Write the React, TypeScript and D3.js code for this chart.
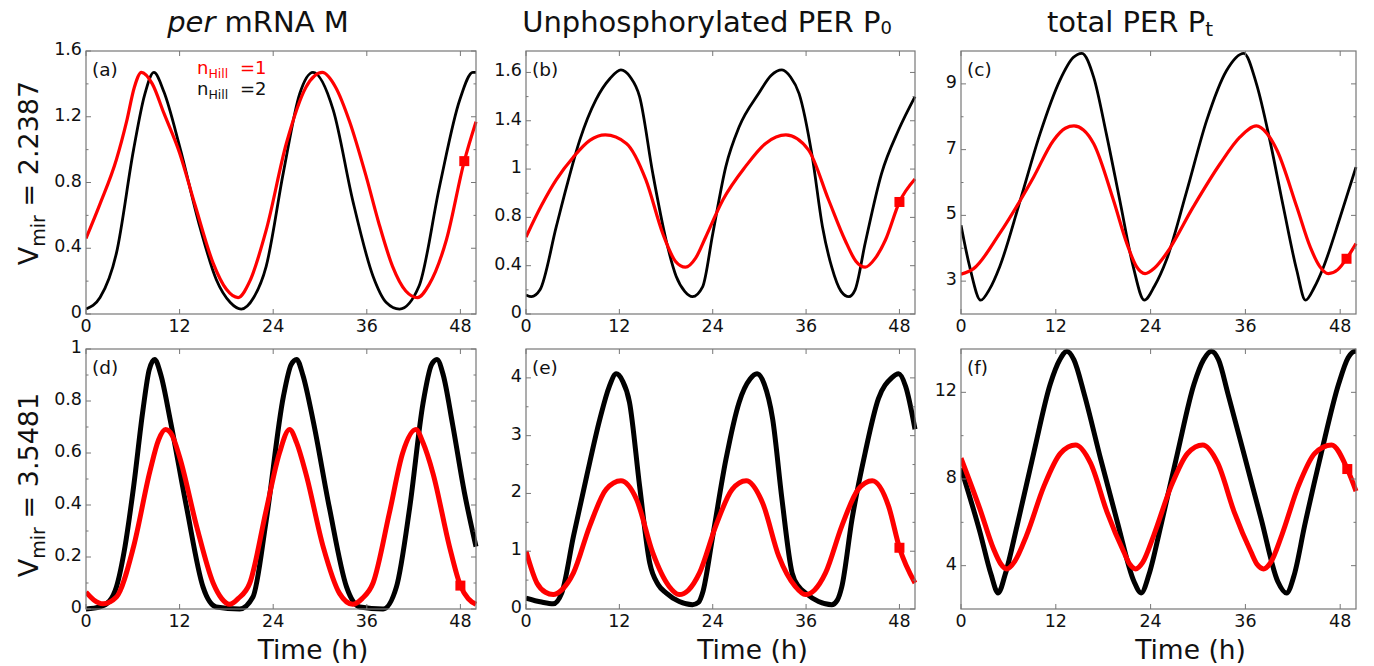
import { useEffect } from "react";
import * as d3 from "d3";

// time axis, hours
const timeDomain = [0, 50];
const timeTicks = [0, 12, 24, 36, 48];

// (a) per mRNA M, Vmir = 2.2387
const mA_n1 = [[0, 0.46], [1.8, 0.67], [3.9, 0.94], [5.2, 1.17], [6.2, 1.38], [7.1, 1.47], [8.5, 1.4], [10, 1.22], [12, 0.98], [14, 0.66], [16.3, 0.31], [18, 0.15], [19.5, 0.1], [21, 0.2], [23.1, 0.51], [25.7, 1.04], [28.2, 1.38], [30.3, 1.47], [32, 1.38], [33.8, 1.17], [35.9, 0.84], [37.5, 0.56], [39.3, 0.29], [41, 0.14], [42.5, 0.1], [44, 0.18], [46.2, 0.45], [48.5, 0.93], [50, 1.17]];
const mA_n2 = [[0, 0.03], [1.8, 0.1], [3.9, 0.37], [6.1, 1.0], [7.5, 1.33], [8.7, 1.47], [10, 1.35], [12, 1.02], [14.6, 0.53], [16.7, 0.21], [18.5, 0.07], [19.9, 0.03], [21.5, 0.1], [23.1, 0.29], [25.3, 0.86], [27.4, 1.34], [29.1, 1.47], [31.7, 1.24], [34.2, 0.69], [36.8, 0.23], [38.5, 0.07], [40.2, 0.03], [42.7, 0.17], [45.3, 0.77], [47.9, 1.3], [49.6, 1.47], [50, 1.47]];

// (b) unphosphorylated PER P0 (axis labels are evenly spaced)
const pB_ticks = [0, 0.32, 0.64, 0.96, 1.28, 1.6];
const pB_labels = ["0", "0.4", "0.8", "1", "1.4", "1.6"];
const pB_n1 = [[0, 0.51], [2, 0.72], [3.9, 0.89], [6.1, 1.04], [8.2, 1.15], [10.2, 1.186], [12.9, 1.13], [15.4, 0.89], [17.6, 0.53], [19.2, 0.35], [20.5, 0.31], [21.8, 0.37], [23.1, 0.51], [25.3, 0.755], [28.2, 0.976], [30.8, 1.13], [33.4, 1.186], [36.3, 1.087], [38.9, 0.755], [41, 0.49], [42.4, 0.35], [43.6, 0.31], [44.9, 0.37], [46.2, 0.49], [48, 0.742], [50, 0.894]];
const pB_n2 = [[0, 0.126], [0.7, 0.115], [1.8, 0.16], [3.9, 0.58], [5.2, 0.84], [6.9, 1.15], [9, 1.42], [10.8, 1.56], [12.2, 1.617], [13.4, 1.57], [14.6, 1.44], [16.3, 0.93], [18, 0.49], [19.3, 0.25], [20.4, 0.15], [21.4, 0.115], [22.7, 0.18], [24, 0.53], [25.7, 0.98], [27.4, 1.24], [29.9, 1.46], [31.5, 1.58], [32.9, 1.617], [34, 1.57], [35.1, 1.46], [36.8, 1.04], [38.1, 0.58], [39.3, 0.31], [40.5, 0.15], [41.5, 0.115], [42.3, 0.16], [43.6, 0.47], [45.7, 0.93], [47.9, 1.22], [50, 1.44]];

// (c) total PER Pt
const pC_n1 = [[0, 3.21], [1.6, 3.38], [4.9, 4.45], [9.2, 6.17], [11.7, 7.28], [13.2, 7.65], [14.3, 7.72], [15.5, 7.6], [16.8, 7.18], [19.3, 5.46], [21, 4.14], [22.2, 3.45], [23.3, 3.23], [24.5, 3.4], [26, 3.84], [29.4, 5.26], [32.8, 6.57], [35.3, 7.38], [37.4, 7.72], [38.7, 7.5], [40, 6.98], [42.5, 5.26], [44.2, 4.04], [45.4, 3.45], [46.5, 3.23], [47.7, 3.35], [48.8, 3.68], [50, 4.14]];
const pC_n2 = [[0, 4.7], [1.1, 3.44], [2.5, 2.42], [3.6, 2.75], [4.9, 3.44], [7.5, 5.46], [10, 7.48], [12.5, 9.1], [14.2, 9.8], [15.3, 9.93], [16.8, 9.2], [18.4, 7.48], [20.1, 5.46], [21.8, 3.44], [23.2, 2.42], [24.5, 2.85], [26, 3.64], [28.6, 5.76], [31.1, 7.89], [33.6, 9.4], [35.8, 9.93], [37.4, 9.0], [39.1, 7.28], [40.8, 5.26], [42.5, 3.33], [43.6, 2.42], [44.7, 2.8], [45.9, 3.44], [48, 4.95], [50, 6.47]];

// (d) per mRNA M, Vmir = 3.5481
const mD_n1 = [[0, 0.065], [1, 0.035], [2.2, 0.02], [3.9, 0.046], [6.1, 0.24], [8.2, 0.53], [9.3, 0.65], [10.2, 0.69], [11, 0.67], [12, 0.585], [14.2, 0.316], [16.3, 0.1], [17.4, 0.04], [18.4, 0.018], [19.5, 0.04], [21, 0.1], [23.1, 0.38], [24.8, 0.6], [26.1, 0.69], [27, 0.64], [28.2, 0.52], [30.4, 0.24], [32.5, 0.06], [34.2, 0.018], [35.4, 0.04], [36.8, 0.1], [38.9, 0.37], [40.6, 0.6], [42.3, 0.69], [43.2, 0.64], [44.5, 0.52], [46.6, 0.24], [48, 0.09], [49, 0.04], [50, 0.018]];
const mD_n2 = [[0, 0], [1.8, 0.008], [3, 0.03], [3.9, 0.085], [5, 0.24], [6.1, 0.47], [7.3, 0.765], [8.1, 0.92], [8.8, 0.96], [9.6, 0.9], [10.8, 0.727], [12.9, 0.39], [15, 0.085], [16.7, 0.008], [19.7, 0.0], [21.4, 0.046], [23.1, 0.34], [25.3, 0.816], [26.3, 0.94], [27, 0.96], [27.8, 0.9], [29.1, 0.727], [31.2, 0.39], [33.4, 0.085], [35.1, 0.008], [38.1, 0.0], [39.8, 0.085], [41.5, 0.39], [43.2, 0.79], [44.3, 0.94], [45, 0.96], [45.8, 0.9], [47, 0.71], [48.5, 0.45], [50, 0.24]];

// (e) unphosphorylated PER P0, Vmir = 3.5481
const pE_n1 = [[0, 1.0], [1.4, 0.45], [2.5, 0.29], [3.5, 0.25], [4.6, 0.33], [6.1, 0.625], [8.2, 1.44], [10.3, 2.07], [12.2, 2.22], [14.2, 1.9], [16.3, 0.97], [18.4, 0.39], [19.7, 0.25], [20.9, 0.33], [22.3, 0.625], [24.4, 1.44], [26.5, 2.07], [28.3, 2.22], [30.4, 1.84], [32.5, 0.91], [34.6, 0.39], [35.9, 0.25], [37.1, 0.33], [38.5, 0.625], [40.6, 1.44], [42.7, 2.07], [44.5, 2.22], [46.6, 1.78], [48, 1.06], [50, 0.45]];
const pE_n2 = [[0, 0.19], [2, 0.12], [3.5, 0.09], [4.6, 0.28], [6.1, 1.26], [7.8, 2.3], [9.5, 3.29], [10.7, 3.85], [11.6, 4.07], [12.4, 3.95], [13.3, 3.58], [14.6, 2.13], [15.9, 0.8], [17, 0.42], [18, 0.28], [19.7, 0.13], [21.4, 0.075], [22.2, 0.12], [22.7, 0.28], [24, 1.26], [25.7, 2.59], [27.4, 3.58], [28.8, 3.98], [29.7, 4.07], [30.6, 3.9], [31.7, 3.29], [32.9, 1.9], [34.2, 0.625], [35.1, 0.38], [35.9, 0.28], [37.6, 0.13], [39.3, 0.075], [40, 0.15], [40.6, 0.39], [41.9, 1.55], [43.6, 2.71], [45.3, 3.64], [47, 4.0], [47.9, 4.07], [48.8, 3.85], [50, 3.11]];

// (f) total PER Pt, Vmir = 3.5481
const pF_n1 = [[0, 8.96], [2.4, 6.61], [4.1, 4.79], [5, 4.1], [5.8, 3.85], [6.8, 4.2], [8.3, 5.4], [10.5, 7.67], [12.6, 9.19], [14.5, 9.57], [16.4, 8.73], [18.5, 6.46], [20.6, 4.64], [21.4, 4.05], [22.1, 3.85], [23, 4.15], [24.4, 5.4], [26.6, 7.67], [28.7, 9.19], [30.6, 9.57], [32.5, 8.73], [34.6, 6.46], [36.7, 4.64], [37.5, 4.05], [38.3, 3.85], [39.2, 4.15], [40.6, 5.4], [42.7, 7.67], [44.8, 9.19], [46.9, 9.57], [48.9, 8.46], [50, 7.44]];
const pF_n2 = [[0, 8.5], [2.4, 5.55], [3.8, 3.6], [4.7, 2.74], [5.6, 3.6], [7.1, 5.85], [9.2, 9.19], [11.3, 12.38], [12.5, 13.5], [13.4, 13.9], [14.3, 13.5], [15.6, 11.92], [17.7, 8.89], [19.8, 6.0], [21.9, 3.27], [22.8, 2.74], [23.8, 3.6], [25.3, 5.85], [27.4, 9.19], [29.5, 12.38], [30.7, 13.5], [31.7, 13.9], [32.6, 13.5], [33.8, 11.92], [35.9, 9.04], [38, 6.15], [40.1, 3.27], [41.2, 2.74], [42.2, 3.6], [43.5, 5.85], [45.6, 9.19], [47.8, 12.38], [49, 13.6], [49.9, 13.9], [50, 13.9]];

// last-point square markers (a)..(f)
const squareMarks = [[48.5, 0.93], [48.0, 0.742], [48.8, 3.68], [48.0, 0.09], [48.0, 1.06], [48.9, 8.46]];

const columnTitles = ["mRNA M", "Unphosphorylated PER P", "total PER P"];
const rowLabels = ["2.2387", "3.5481"];
const panelNames = ["(a)", "(b)", "(c)", "(d)", "(e)", "(f)"];

const colX = [[86, 476], [526, 915], [961, 1356]];
const rowY = [[51, 314], [349, 609]];
const FRAME = "#777";
const FONT = "DejaVu Sans, sans-serif";

const panels = [
  { col: 0, row: 0, dom: [0, 1.6], ticks: [0, 0.4, 0.8, 1.2, 1.6], labels: ["0", "0.4", "0.8", "1.2", "1.6"], minor: [0.2, 0.6, 1.0, 1.4], red: mA_n1, black: mA_n2, lw: [3.2, 2.8] },
  { col: 1, row: 0, dom: [0, 1.742], ticks: pB_ticks, labels: pB_labels, minor: [0.16, 0.48, 0.8, 1.12, 1.44], red: pB_n1, black: pB_n2, lw: [3.2, 2.8] },
  { col: 2, row: 0, dom: [2, 10], ticks: [3, 5, 7, 9], labels: ["3", "5", "7", "9"], minor: [4, 6, 8], red: pC_n1, black: pC_n2, lw: [3.2, 2.8] },
  { col: 0, row: 1, dom: [0, 1], ticks: [0, 0.2, 0.4, 0.6, 0.8, 1], labels: ["0", "0.2", "0.4", "0.6", "0.8", "1"], minor: [0.1, 0.3, 0.5, 0.7, 0.9], red: mD_n1, black: mD_n2, lw: [5, 5] },
  { col: 1, row: 1, dom: [0, 4.5], ticks: [0, 1, 2, 3, 4], labels: ["0", "1", "2", "3", "4"], minor: [0.5, 1.5, 2.5, 3.5], red: pE_n1, black: pE_n2, lw: [5, 5] },
  { col: 2, row: 1, dom: [2, 14], ticks: [4, 8, 12], labels: ["4", "8", "12"], minor: [6, 10], red: pF_n1, black: pF_n2, lw: [5, 5] },
];

function Panel({ p, i }: { p: any; i: number }) {
  const [x0, x1] = colX[p.col];
  const [y0, y1] = rowY[p.row];
  const x = d3.scaleLinear().domain(timeDomain).range([x0, x1]);
  const y = d3.scaleLinear().domain(p.dom).range([y1, y0]);
  const line = d3
    .line<number[]>()
    .x((d) => x(d[0]))
    .y((d) => y(d[1]))
    .curve(d3.curveMonotoneX);
  const sq = squareMarks[i];
  const clipId = `clip-${i}`;
  return (
    <g>
      <clipPath id={clipId}>
        <rect x={x0} y={y0 - 3} width={x1 - x0 + 3} height={y1 - y0 + 6} />
      </clipPath>
      <g clipPath={`url(#${clipId})`}>
        <path d={line(p.black) || ""} fill="none" stroke="#000" strokeWidth={p.lw[1]} />
        <path d={line(p.red) || ""} fill="none" stroke="#ff0000" strokeWidth={p.lw[0]} />
      </g>
      <rect x={x(sq[0]) - 5} y={y(sq[1]) - 5} width={10} height={10} fill="#ff0000" />
      <rect x={x0} y={y0} width={x1 - x0} height={y1 - y0} fill="none" stroke={FRAME} strokeWidth={1.2} />
      {timeTicks.map((t) => (
        <g key={"xt" + t}>
          <line x1={x(t)} x2={x(t)} y1={y1} y2={y1 - 5} stroke={FRAME} />
          <line x1={x(t)} x2={x(t)} y1={y0} y2={y0 + 5} stroke={FRAME} />
          <text x={x(t)} y={y1 + 18} textAnchor="middle" fontSize={17.5} fontFamily={FONT} fill="#111">
            {t}
          </text>
        </g>
      ))}
      {p.ticks.map((v: number, k: number) => (
        <g key={"yt" + k}>
          <line x1={x0} x2={x0 + 5} y1={y(v)} y2={y(v)} stroke={FRAME} />
          <line x1={x1} x2={x1 - 5} y1={y(v)} y2={y(v)} stroke={FRAME} />
          <text x={x0 - 4} y={y(v) + 4} textAnchor="end" fontSize={17.5} fontFamily={FONT} fill="#111">
            {p.labels[k]}
          </text>
        </g>
      ))}
      {p.minor.map((v: number, k: number) => (
        <g key={"ym" + k}>
          <line x1={x0} x2={x0 + 2.5} y1={y(v)} y2={y(v)} stroke={FRAME} />
          <line x1={x1} x2={x1 - 2.5} y1={y(v)} y2={y(v)} stroke={FRAME} />
        </g>
      ))}
      <text x={x0 + 6} y={y0 + 25} fontSize={18.5} fontFamily={FONT} fill="#111">
        {panelNames[i]}
      </text>
    </g>
  );
}

export default function App() {
  useEffect(() => {
    document.body.style.margin = "0";
  }, []);
  const titleY = 32;
  return (
    <svg width={1374} height={666} style={{ display: "block", background: "#fff" }}>
      {panels.map((p, i) => (
        <Panel key={i} p={p} i={i} />
      ))}
      {/* column titles */}
      <text x={258} y={titleY} textAnchor="middle" fontSize={29} fontFamily={FONT} fill="#111">
        <tspan fontStyle="italic">per</tspan> {columnTitles[0]}
      </text>
      <text x={707} y={titleY} textAnchor="middle" fontSize={29} fontFamily={FONT} fill="#111">
        {columnTitles[1]}
        <tspan fontSize={18} dy={2}>0</tspan>
      </text>
      <text x={1130} y={titleY} textAnchor="middle" fontSize={29} fontFamily={FONT} fill="#111">
        {columnTitles[2]}
        <tspan fontSize={20} dy={4}>t</tspan>
      </text>
      {/* row labels */}
      {rowLabels.map((v, r) => {
        const cy = r === 0 ? 173 : 485;
        return (
          <text key={v} transform={`translate(38,${cy}) rotate(-90)`} textAnchor="middle" fontSize={27} fontFamily={FONT} fill="#111">
            V<tspan fontSize={19} dy={7}>mir</tspan>
            <tspan dy={-7}>{" = " + v}</tspan>
          </text>
        );
      })}
      {/* x labels */}
      {colX.map(([a, b], c) => (
        <text key={"xl" + c} x={(a + b) / 2 + 32} y={659} textAnchor="middle" fontSize={26.5} fontFamily={FONT} fill="#111">
          Time (h)
        </text>
      ))}
      {/* legend */}
      <text x={197} y={74} fontSize={18} fontFamily={FONT} fill="#ff0000">
        n<tspan fontSize={12.5} dy={4}>Hill</tspan>
        <tspan x={240} dy={-4}>=1</tspan>
      </text>
      <text x={197} y={95} fontSize={18} fontFamily={FONT} fill="#111">
        n<tspan fontSize={12.5} dy={4}>Hill</tspan>
        <tspan x={240} dy={-4}>=2</tspan>
      </text>
    </svg>
  );
}
